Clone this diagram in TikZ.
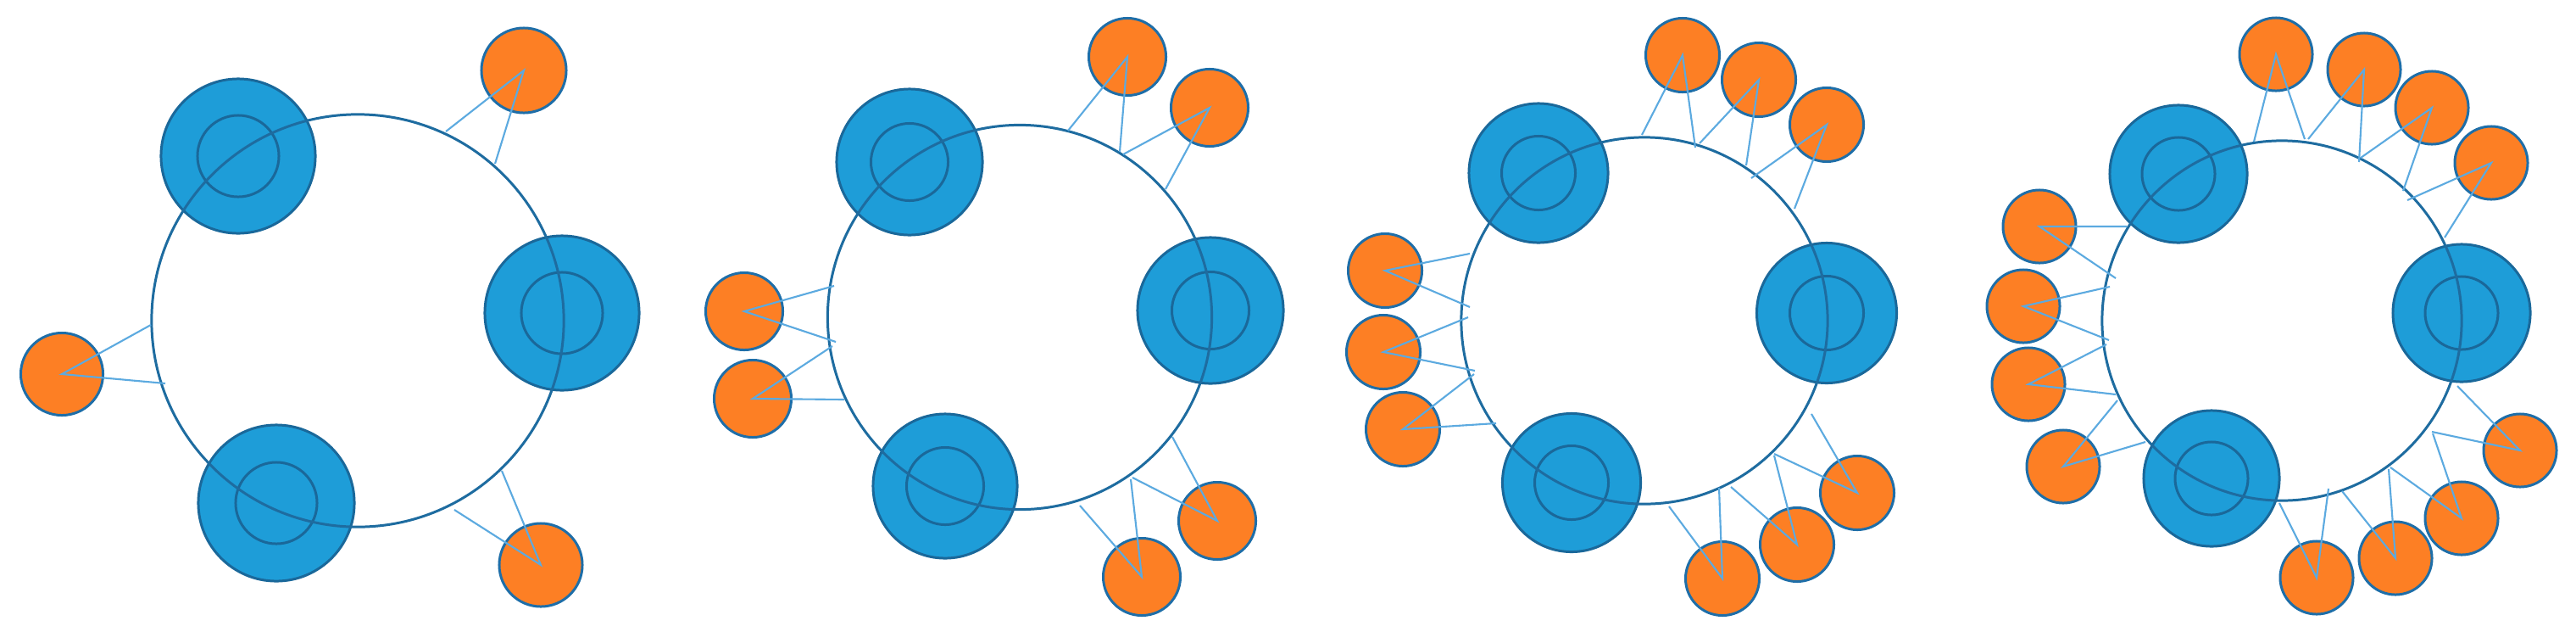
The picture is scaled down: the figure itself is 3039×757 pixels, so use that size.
\documentclass[tikz,border=0pt]{standalone}
\definecolor{bluefill}{RGB}{30,157,216}
\definecolor{bordcol}{RGB}{26,104,154}
\definecolor{ringcol}{RGB}{30,108,160}
\definecolor{ofill}{RGB}{253,127,36}
\definecolor{obord}{RGB}{30,110,168}
\definecolor{linkcol}{RGB}{92,170,224}
\tikzset{
 ringc/.style={circle, draw=ringcol, line width=0.85pt, minimum size=#1, inner sep=0pt},
 bigb/.style={circle, draw=bordcol, fill=bluefill, line width=0.85pt, minimum size=#1, inner sep=0pt},
 innerb/.style={circle, draw=bordcol, line width=0.85pt, minimum size=#1, inner sep=0pt},
 orn/.style={circle, draw=obord, fill=ofill, line width=0.85pt, minimum size=#1, inner sep=0pt},
 link/.style={draw=linkcol, line width=0.6pt}
}
\begin{document}
\begin{tikzpicture}[x=0.01cm,y=-0.01cm]
\useasboundingbox[fill=white] (0,0) rectangle (3039,757);
% ---------- Panel 1 ----------
\node[bigb=1.82cm] (b1a) at (281,184) {};
\node[innerb=0.96cm] (i1a) at (b1a) {};
\node[bigb=1.82cm] (b1b) at (663,369) {};
\node[innerb=0.96cm] (i1b) at (b1b) {};
\node[bigb=1.84cm] (b1c) at (326,593) {};
\node[innerb=0.96cm] (i1c) at (b1c) {};
\node[ringc=4.86cm] (r1) at (422,378) {};
\node[orn=1.0cm] (o1a) at (618,83) {};
\node[orn=0.97cm] (o1b) at (73,441) {};
\node[orn=0.98cm] (o1c) at (638,666) {};
\coordinate (p1a1) at (526,155); \coordinate (p1a2) at (584,193);
\coordinate (p1b1) at (178,383); \coordinate (p1b2) at (195,452);
\coordinate (p1c1) at (592,555); \coordinate (p1c2) at (536,601);
\draw[link] (p1a1) -- (o1a.center) -- (p1a2);
\draw[link] (p1b1) -- (o1b.center) -- (p1b2);
\draw[link] (p1c1) -- (o1c.center) -- (p1c2);
% ---------- Panel 2 ----------
\node[bigb=1.72cm] (b2a) at (1073,191) {};
\node[innerb=0.91cm] (i2a) at (b2a) {};
\node[bigb=1.72cm] (b2b) at (1428,366) {};
\node[innerb=0.91cm] (i2b) at (b2b) {};
\node[bigb=1.70cm] (b2c) at (1115,573) {};
\node[innerb=0.91cm] (i2c) at (b2c) {};
\node[ringc=4.53cm] (r2) at (1203,374) {};
\node[orn=0.91cm] (o2a) at (1330,67) {};
\node[orn=0.91cm] (o2b) at (1427,127) {};
\node[orn=0.91cm] (o2c) at (878,367) {};
\node[orn=0.91cm] (o2d) at (888,470) {};
\node[orn=0.91cm] (o2e) at (1436,614) {};
\node[orn=0.91cm] (o2f) at (1347,680) {};
\coordinate (p2a1) at (1260,154); \coordinate (p2a2) at (1321,179);
\coordinate (p2b1) at (1325,182); \coordinate (p2b2) at (1375,223);
\coordinate (p2c1) at (984,337); \coordinate (p2c2) at (986,403);
\coordinate (p2d1) at (982,408); \coordinate (p2d2) at (996,471);
\coordinate (p2e1) at (1383,515); \coordinate (p2e2) at (1336,563);
\coordinate (p2f1) at (1334,565); \coordinate (p2f2) at (1274,596);
\draw[link] (p2a1) -- (o2a.center) -- (p2a2);
\draw[link] (p2b1) -- (o2b.center) -- (p2b2);
\draw[link] (p2c1) -- (o2c.center) -- (p2c2);
\draw[link] (p2d1) -- (o2d.center) -- (p2d2);
\draw[link] (p2e1) -- (o2e.center) -- (p2e2);
\draw[link] (p2f1) -- (o2f.center) -- (p2f2);
% ---------- Panel 3 ----------
\node[bigb=1.64cm] (b3a) at (1815,204) {};
\node[innerb=0.87cm] (i3a) at (b3a) {};
\node[bigb=1.65cm] (b3b) at (2155,369) {};
\node[innerb=0.87cm] (i3b) at (b3b) {};
\node[bigb=1.63cm] (b3c) at (1854,569) {};
\node[innerb=0.87cm] (i3c) at (b3c) {};
\node[ringc=4.32cm] (r3) at (1940,378) {};
\node[orn=0.87cm] (o3a) at (1985,65) {};
\node[orn=0.87cm] (o3b) at (2075,94) {};
\node[orn=0.87cm] (o3c) at (2155,147) {};
\node[orn=0.87cm] (o3d) at (1634,319) {};
\node[orn=0.87cm] (o3e) at (1632,415) {};
\node[orn=0.87cm] (o3f) at (1655,506) {};
\node[orn=0.87cm] (o3g) at (2191,581) {};
\node[orn=0.87cm] (o3h) at (2120,642) {};
\node[orn=0.87cm] (o3i) at (2032,682) {};
\coordinate (p3a1) at (1937,159); \coordinate (p3a2) at (2000,174);
\coordinate (p3b1) at (2005,169); \coordinate (p3b2) at (2060,195);
\coordinate (p3c1) at (2066,210); \coordinate (p3c2) at (2117,246);
\coordinate (p3d1) at (1734,299); \coordinate (p3d2) at (1734,362);
\coordinate (p3e1) at (1732,374); \coordinate (p3e2) at (1740,437);
\coordinate (p3f1) at (1739,441); \coordinate (p3f2) at (1765,499);
\coordinate (p3g1) at (2137,488); \coordinate (p3g2) at (2093,535);
\coordinate (p3h1) at (2093,537); \coordinate (p3h2) at (2042,574);
\coordinate (p3i1) at (2028,575); \coordinate (p3i2) at (1969,597);
\draw[link] (p3a1) -- (o3a.center) -- (p3a2);
\draw[link] (p3b1) -- (o3b.center) -- (p3b2);
\draw[link] (p3c1) -- (o3c.center) -- (p3c2);
\draw[link] (p3d1) -- (o3d.center) -- (p3d2);
\draw[link] (p3e1) -- (o3e.center) -- (p3e2);
\draw[link] (p3f1) -- (o3f.center) -- (p3f2);
\draw[link] (p3g1) -- (o3g.center) -- (p3g2);
\draw[link] (p3h1) -- (o3h.center) -- (p3h2);
\draw[link] (p3i1) -- (o3i.center) -- (p3i2);
% ---------- Panel 4 ----------
\node[bigb=1.62cm] (b4a) at (2570,205) {};
\node[innerb=0.86cm] (i4a) at (b4a) {};
\node[bigb=1.62cm] (b4b) at (2904,369) {};
\node[innerb=0.86cm] (i4b) at (b4b) {};
\node[bigb=1.60cm] (b4c) at (2609,564) {};
\node[innerb=0.86cm] (i4c) at (b4c) {};
\node[ringc=4.24cm] (r4) at (2692,378) {};
\node[orn=0.86cm] (o4a) at (2685,64) {};
\node[orn=0.86cm] (o4b) at (2789,82) {};
\node[orn=0.86cm] (o4c) at (2869,127) {};
\node[orn=0.86cm] (o4d) at (2939,192) {};
\node[orn=0.86cm] (o4e) at (2406,267) {};
\node[orn=0.86cm] (o4f) at (2387,361) {};
\node[orn=0.86cm] (o4g) at (2393,453) {};
\node[orn=0.86cm] (o4h) at (2434,550) {};
\node[orn=0.86cm] (o4i) at (2973,531) {};
\node[orn=0.86cm] (o4j) at (2904,611) {};
\node[orn=0.86cm] (o4k) at (2826,658) {};
\node[orn=0.86cm] (o4l) at (2733,681) {};
\coordinate (p4a1) at (2659,167); \coordinate (p4a2) at (2719,164);
\coordinate (p4b1) at (2723,164); \coordinate (p4b2) at (2783,191);
\coordinate (p4c1) at (2785,186); \coordinate (p4c2) at (2835,225);
\coordinate (p4d1) at (2840,236); \coordinate (p4d2) at (2884,280);
\coordinate (p4e1) at (2509,267); \coordinate (p4e2) at (2496,328);
\coordinate (p4f1) at (2489,338); \coordinate (p4f2) at (2488,401);
\coordinate (p4g1) at (2485,406); \coordinate (p4g2) at (2496,465);
\coordinate (p4h1) at (2498,472); \coordinate (p4h2) at (2531,521);
\coordinate (p4i1) at (2899,455); \coordinate (p4i2) at (2869,509);
\coordinate (p4j1) at (2870,511); \coordinate (p4j2) at (2820,551);
\coordinate (p4k1) at (2818,553); \coordinate (p4k2) at (2763,579);
\coordinate (p4l1) at (2747,576); \coordinate (p4l2) at (2689,593);
\draw[link] (p4a1) -- (o4a.center) -- (p4a2);
\draw[link] (p4b1) -- (o4b.center) -- (p4b2);
\draw[link] (p4c1) -- (o4c.center) -- (p4c2);
\draw[link] (p4d1) -- (o4d.center) -- (p4d2);
\draw[link] (p4e1) -- (o4e.center) -- (p4e2);
\draw[link] (p4f1) -- (o4f.center) -- (p4f2);
\draw[link] (p4g1) -- (o4g.center) -- (p4g2);
\draw[link] (p4h1) -- (o4h.center) -- (p4h2);
\draw[link] (p4i1) -- (o4i.center) -- (p4i2);
\draw[link] (p4j1) -- (o4j.center) -- (p4j2);
\draw[link] (p4k1) -- (o4k.center) -- (p4k2);
\draw[link] (p4l1) -- (o4l.center) -- (p4l2);
\end{tikzpicture}
\end{document}
